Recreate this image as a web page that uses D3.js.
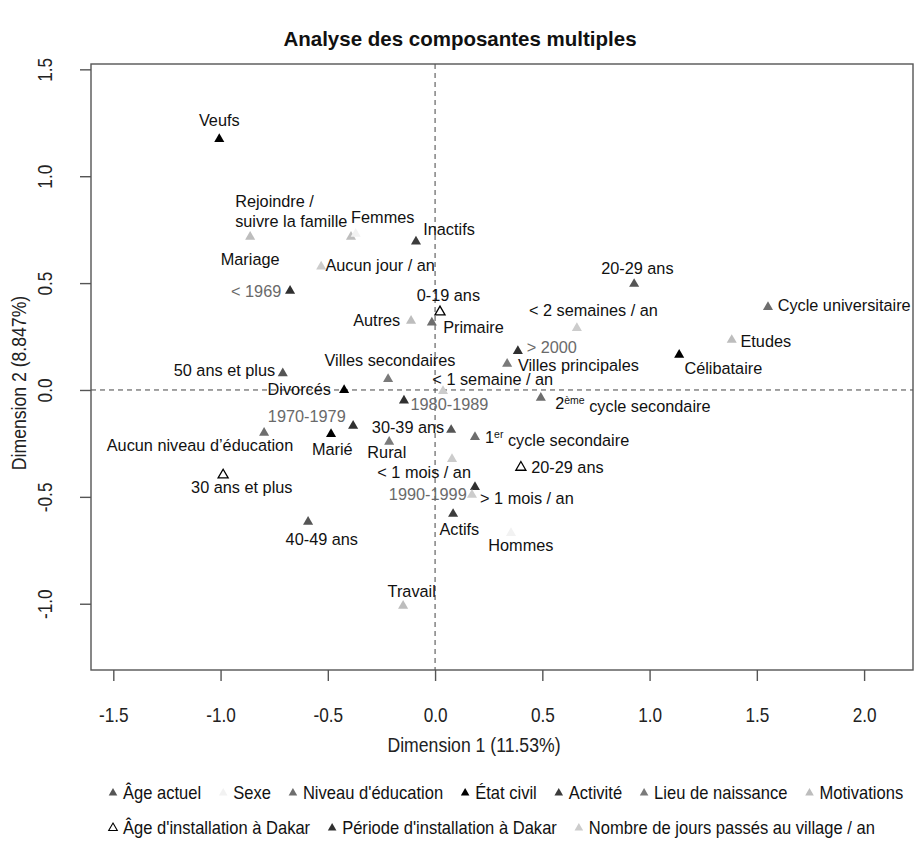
<!DOCTYPE html>
<html><head><meta charset="utf-8">
<script src="https://cdn.jsdelivr.net/npm/d3@7"></script>
<style>
body{margin:0;background:#fff;}
svg{display:block;}
.lab{font-family:"Liberation Sans",Arial,sans-serif;}
</style></head>
<body>
<script>
// ---------- DATA ----------
const title = "Analyse des composantes multiples";
const xTitle = "Dimension 1 (11.53%)";
const yTitle = "Dimension 2 (8.847%)";
const xTicks = [-1.5, -1.0, -0.5, 0.0, 0.5, 1.0, 1.5, 2.0];
const yTicks = [-1.0, -0.5, 0.0, 0.5, 1.0, 1.5];

const groups = ["Âge actuel","Sexe","Niveau d'éducation","État civil","Activité","Lieu de naissance","Motivations",
                "Âge d'installation à Dakar","Période d'installation à Dakar","Nombre de jours passés au village / an"];
const groupFill = ["#555555","#f2f2f2","#6e6e6e","#000000","#3c3c3c","#7a7a7a","#bdbdbd","none","#303030","#cccccc"];
const groupStroke = ["none","none","none","none","none","none","none","#000000","none","none"];
const groupLabelColor = ["#111","#111","#111","#111","#111","#111","#111","#111","#6a6a6a","#111"];
const legendRow = [0,0,0,0,0,0,0,1,1,1];

const labels = ["Veufs","Mariage","Rejoindre /\nsuivre la famille","Femmes","Inactifs","Aucun jour / an","< 1969",
  "20-29 ans","Cycle universitaire","0-19 ans","Autres","Primaire","< 2 semaines / an","Etudes","> 2000",
  "Célibataire","Villes principales","Villes secondaires","50 ans et plus","< 1 semaine / an","Divorcés",
  "1980-1989","2{ème} cycle secondaire","1970-1979","Aucun niveau d’éducation","Marié","30-39 ans",
  "1{er} cycle secondaire","Rural","< 1 mois / an","20-29 ans","1990-1999","> 1 mois / an","Actifs","Hommes",
  "30 ans et plus","40-49 ans","Travail"];
const groupOf = [3,6,6,1,4,9,8,
  0,2,7,6,2,9,6,8,
  3,5,5,0,9,3,
  8,2,8,2,3,0,
  2,5,9,7,8,9,4,1,
  7,0,6];
const dim1 = [-1.006,-0.862,-0.392,-0.370,-0.089,-0.531,-0.676,
  0.928,1.552,0.023,-0.112,-0.015,0.661,1.383,0.386,
  1.138,0.336,-0.219,-0.710,0.037,-0.424,
  -0.145,0.493,-0.382,-0.797,-0.485,0.075,
  0.186,-0.214,0.079,0.400,0.186,0.172,0.084,0.354,
  -0.988,-0.592,-0.149];
const dim2 = [1.174,0.717,0.717,0.730,0.694,0.577,0.464,
  0.496,0.388,0.365,0.324,0.315,0.290,0.234,0.182,
  0.164,0.122,0.051,0.078,-0.005,0.000,
  -0.050,-0.037,-0.168,-0.201,-0.206,-0.187,
  -0.220,-0.243,-0.323,-0.362,-0.454,-0.491,-0.580,-0.669,
  -0.398,-0.617,-1.010];
// label anchor positions in data units (as placed on the original figure)
const labelDim1 = [-1.006,-0.862,-0.932,-0.244,0.065,-0.256,-0.834,
  0.943,1.907,0.062,-0.272,0.179,0.738,1.542,0.544,
  1.344,0.668,-0.210,-0.982,0.269,-0.633,
  0.067,0.922,-0.598,-1.096,-0.479,-0.126,
  0.569,-0.225,-0.051,0.617,-0.034,0.428,0.113,0.400,
  -0.901,-0.528,-0.109];
const labelDim2 = [1.263,0.613,0.881,0.808,0.753,0.581,0.464,
  0.569,0.398,0.441,0.324,0.293,0.374,0.229,0.198,
  0.101,0.117,0.140,0.090,0.050,0.005,
  -0.067,-0.062,-0.122,-0.261,-0.276,-0.176,
  -0.221,-0.291,-0.385,-0.362,-0.488,-0.507,-0.652,-0.725,
  -0.455,-0.697,-0.943];

// ---------- DRAW ----------
const W = 914, H = 843;
const NARROW = 0.86;
const svg = d3.select("body").append("svg").attr("width", W).attr("height", H);
const plot = {left: 91, top: 64, right: 913, bottom: 670};
const x = d3.scaleLinear().domain([-1.604, 2.228]).range([plot.left, plot.right]);
const y = d3.scaleLinear().domain([-1.310, 1.525]).range([plot.bottom, plot.top]);
const fmt = v => d3.format(".1f")(v).replace("−","-");

// title
svg.append("text").attr("class","lab").attr("x", 460).attr("y", 46)
  .attr("text-anchor","middle").attr("font-size", 20.5).attr("font-weight","bold").attr("fill","#111").text(title);

// reference dashed lines
svg.append("line").attr("x1", x(0)).attr("x2", x(0)).attr("y1", plot.top).attr("y2", plot.bottom)
  .attr("stroke","#444").attr("stroke-dasharray","5,4").attr("stroke-width",1);
svg.append("line").attr("x1", plot.left).attr("x2", plot.right).attr("y1", y(0)).attr("y2", y(0))
  .attr("stroke","#444").attr("stroke-dasharray","5,4").attr("stroke-width",1);

// box
svg.append("rect").attr("x", plot.left).attr("y", plot.top).attr("width", plot.right-plot.left)
  .attr("height", plot.bottom-plot.top).attr("fill","none").attr("stroke","#555").attr("stroke-width",1.4);

// axes
const xAxis = svg.append("g").attr("transform",`translate(0,${plot.bottom})`)
  .call(d3.axisBottom(x).tickValues(xTicks).tickSize(11).tickFormat(fmt));
const yAxis = svg.append("g").attr("transform",`translate(${plot.left},0)`)
  .call(d3.axisLeft(y).tickValues(yTicks).tickSize(11).tickFormat(fmt));
[xAxis,yAxis].forEach(g=>{
  g.select(".domain").remove();
  g.selectAll(".tick line").attr("stroke","#555").attr("stroke-width",1.4);
  g.selectAll("text").attr("class","lab").attr("font-size",20).attr("fill","#222")
    .attr("text-anchor","middle").attr("x",0).attr("y",0).attr("dy","0.35em");
});
xAxis.selectAll(".tick text").attr("transform",`translate(0,45) scale(${NARROW},1)`);
yAxis.selectAll(".tick text").attr("transform",`translate(-46,0) rotate(-90) scale(${NARROW},1)`);

svg.append("text").attr("class","lab").attr("transform",`translate(474,745) scale(${NARROW},1)`)
  .attr("text-anchor","middle").attr("dy","0.35em").attr("font-size",20.5).attr("fill","#222").text(xTitle);
svg.append("text").attr("class","lab").attr("transform",`translate(19,383) rotate(-90) scale(${NARROW},1)`)
  .attr("text-anchor","middle").attr("dy","0.35em").attr("font-size",20.5).attr("fill","#222").text(yTitle);

// points
const tri = d3.symbol().type(d3.symbolTriangle).size(44);
const pts = labels.map((l,i)=>({label:l, g:groupOf[i], x:dim1[i], y:dim2[i], lx:labelDim1[i], ly:labelDim2[i]}));
svg.append("g").selectAll("path").data(pts).join("path")
  .attr("d", tri)
  .attr("transform", d=>`translate(${x(d.x)},${y(d.y)})`)
  .attr("fill", d=>groupFill[d.g])
  .attr("stroke", d=>groupStroke[d.g])
  .attr("stroke-width", d=>groupStroke[d.g]==="none"?0:1.3);

// labels
const lg = svg.append("g").attr("class","lab").attr("font-size",16.3);
pts.forEach(d=>{
  const lines = d.label.split("\n");
  const multi = lines.length>1;
  const t = lg.append("text").attr("x", x(d.lx)).attr("y", y(d.ly))
    .attr("text-anchor", multi ? "start" : "middle").attr("dy","0.35em")
    .attr("fill", groupLabelColor[d.g]);
  lines.forEach((line,k)=>{
    const m = line.match(/^(.*?)\{(.*?)\}(.*)$/);
    if (m) {
      t.append("tspan").text(m[1]);
      t.append("tspan").attr("font-size",10.5).attr("dy","-0.5em").text(m[2]);
      t.append("tspan").attr("dy","0.5em").text(m[3]);
    } else {
      const ts = t.append("tspan").text(line);
      if (multi) { ts.attr("x", x(d.lx)); if (k>0) ts.attr("dy","1.2em"); }
    }
  });
});

// legend
const legY = [793, 828];
const legGap = 22;
const legSx = 0.92;
const leg = svg.append("g").attr("class","lab").attr("font-size",18);
const cursor = [108, 108];
const ltri = d3.symbol().type(d3.symbolTriangle).size(32);
groups.forEach((gname,i)=>{
  const r = legendRow[i];
  const mx = cursor[r] + 5;
  leg.append("path").attr("d", ltri).attr("transform",`translate(${mx},${legY[r]})`)
    .attr("fill", groupFill[i]).attr("stroke", groupStroke[i]).attr("stroke-width", groupStroke[i]==="none"?0:1.1);
  const t = leg.append("text").attr("transform",`translate(${mx+10},${legY[r]}) scale(${legSx},1)`)
    .attr("dy","0.35em").attr("fill","#111").text(gname);
  const w = t.node().getComputedTextLength() * legSx;
  cursor[r] = mx + 10 + w + legGap - 5;
});
</script>
</body></html>
